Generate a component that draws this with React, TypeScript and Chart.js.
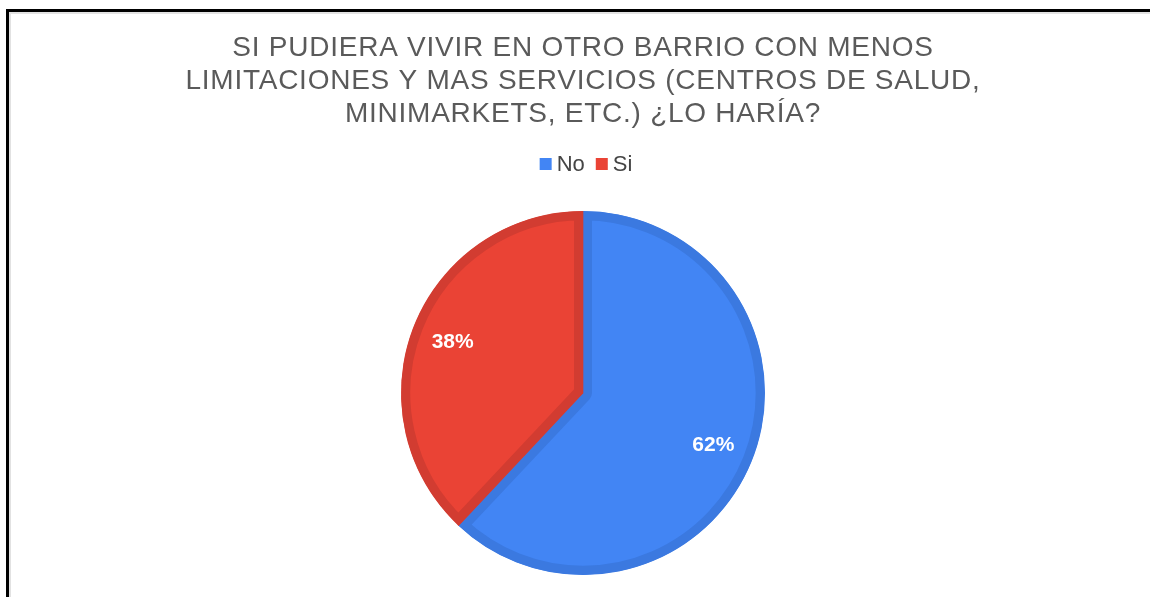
import React, { useEffect, useRef } from "react";
import { Chart, registerables } from "chart.js";

Chart.register(...registerables);

const titleLines = [
  "SI PUDIERA VIVIR EN OTRO BARRIO CON MENOS",
  "LIMITACIONES Y MAS SERVICIOS (CENTROS DE SALUD,",
  "MINIMARKETS, ETC.) ¿LO HARÍA?",
];
const categories = ["No", "Si"];
const values = [62, 38];
const sliceColors = ["#4285F4", "#EA4335"];
const sliceBorders = ["#3B79E0", "#D23C31"];

const FONT = "'Liberation Sans', Arial, sans-serif";

const spacing = {
  id: "titleSpacing",
  beforeDraw(chart: any) {
    chart.ctx.letterSpacing = "0.75px";
  },
  beforeDatasetsDraw(chart: any) {
    chart.ctx.letterSpacing = "0px";
  },
};

const legendAndLabels = {
  id: "legendAndLabels",
  afterDatasetsDraw(chart: any) {
    const ctx = chart.ctx;
    ctx.letterSpacing = "0px";
    const meta = chart.getDatasetMeta(0);
    const total = values.reduce((a, b) => a + b, 0);
    ctx.save();
    ctx.fillStyle = "#ffffff";
    ctx.font = `bold 21px ${FONT}`;
    ctx.textAlign = "center";
    ctx.textBaseline = "middle";
    meta.data.forEach((arc: any, i: number) => {
      const p = arc.getProps(["x", "y", "startAngle", "endAngle", "outerRadius"], true);
      const mid = (p.startAngle + p.endAngle) / 2;
      const r = p.outerRadius * 0.77;
      const pct = Math.round((values[i] / total) * 100) + "%";
      ctx.fillText(pct, p.x + Math.cos(mid) * r, p.y + Math.sin(mid) * r + 1);
    });
    ctx.restore();

    // legend
    ctx.save();
    ctx.font = `22px ${FONT}`;
    ctx.textBaseline = "middle";
    ctx.textAlign = "left";
    const box = 12;
    const gapText = 5;
    const gapItem = 11;
    const widths = categories.map((c) => ctx.measureText(c).width);
    const totalW = widths.reduce((s, w) => s + box + gapText + w, 0) + gapItem * (categories.length - 1);
    const cx = (chart.chartArea.left + chart.chartArea.right) / 2;
    const cy = chart.titleBlock.bottom + 33;
    let x = cx - totalW / 2 + 3;
    categories.forEach((c, i) => {
      ctx.fillStyle = sliceColors[i];
      ctx.fillRect(x, cy - box / 2, box, box);
      x += box + gapText;
      ctx.fillStyle = "#454545";
      ctx.fillText(c, x, cy + 1);
      x += widths[i] + gapItem;
    });
    ctx.restore();
  },
};

export default function App() {
  const ref = useRef<HTMLCanvasElement | null>(null);
  useEffect(() => {
    if (!ref.current) return;
    const chart = new Chart(ref.current, {
      type: "pie",
      data: {
        labels: categories,
        datasets: [
          {
            data: values,
            backgroundColor: sliceColors,
            borderColor: sliceBorders,
            borderWidth: 9,
            borderAlign: "inner",
            hoverOffset: 0,
            offset: 0,
          } as any,
        ],
      },
      options: {
        responsive: false,
        animation: false,
        maintainAspectRatio: false,
        layout: { padding: { left: 16, bottom: 22, top: 0, right: 0 } },
        plugins: {
          legend: { display: false },
          tooltip: { enabled: false },
          title: {
            display: true,
            text: titleLines,
            color: "#5a5a5a",
            font: { family: FONT, size: 28, weight: "normal", lineHeight: "33px" },
            padding: { top: 32, bottom: 0 },
          },
          subtitle: {
            display: true,
            text: "",
            font: { size: 10, lineHeight: "80px" },
            padding: 0,
          },
        },
      },
      plugins: [spacing, legendAndLabels],
    });
    return () => chart.destroy();
  }, []);

  return (
    <div
      style={{
        position: "fixed",
        left: 0,
        top: 0,
        width: 1150,
        height: 597,
        background: "#ffffff",
        overflow: "hidden",
      }}
    >
      <canvas
        ref={ref}
        width={1150}
        height={597}
        style={{ position: "absolute", left: 0, top: 0, width: 1150, height: 597 }}
      />
      <div
        style={{
          position: "absolute",
          left: 6,
          top: 9,
          right: 0,
          bottom: 0,
          borderTop: "3px solid #000",
          borderLeft: "3px solid #000",
          boxShadow: "inset 2px 2px 0 #e2e2e2",
          pointerEvents: "none",
        }}
      />
    </div>
  );
}
